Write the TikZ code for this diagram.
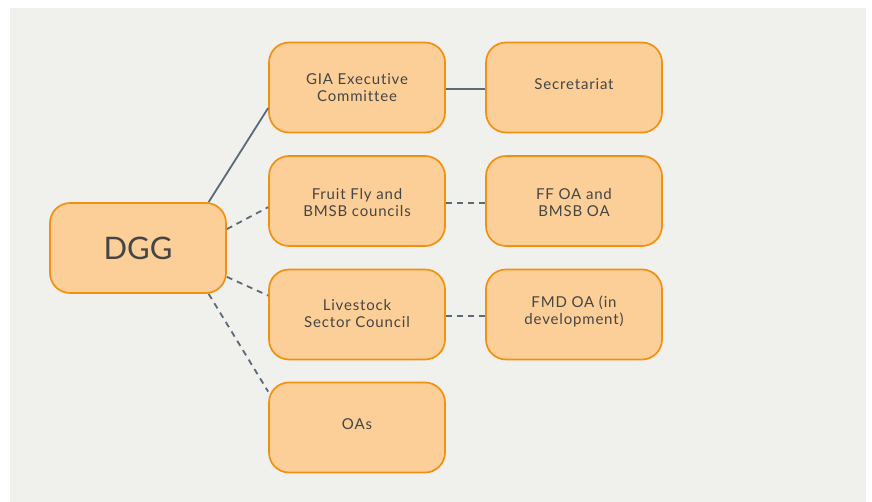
\documentclass[tikz,border=0pt]{standalone}
\usepackage{fontspec}
\setmainfont{Lato}
\newfontfamily\boxfont[LetterSpace=5.5,RawFeature={-liga;-dlig}]{Lato}
\definecolor{bgc}{HTML}{F0F0EC}
\definecolor{boxfill}{HTML}{FCCF98}
\definecolor{boxline}{HTML}{F29111}
\definecolor{linkc}{HTML}{5B6978}
\definecolor{txt}{HTML}{454545}
\newcommand{\twolines}[3]{\raisebox{#1}[\height][\depth]{\begin{tabular}{@{}c@{}}#2\\#3\end{tabular}}}
\newcommand{\oneline}[2]{\raisebox{#1}[\height][\depth]{#2}}
\tikzset{
  orgbox/.style={rectangle, rounded corners=20pt, draw=boxline, fill=boxfill,
    line width=1.7pt, minimum width=176pt, minimum height=90pt, inner sep=0pt,
    align=center, text=txt, font=\boxfont\fontsize{15}{17}\selectfont},
  bigbox/.style={orgbox, font=\rmfamily\fontsize{31}{36}\selectfont},
  solidlink/.style={draw=linkc, line width=1.8pt},
  dashlink/.style={draw=linkc, line width=1.8pt, dash pattern=on 6pt off 5pt}
}
\begin{document}
\begin{tikzpicture}[x=1pt,y=-1pt]
\useasboundingbox (0,0) rectangle (872,502);
\fill[white] (0,0) rectangle (872,502);
\fill[bgc] (10,8) rectangle (866,502);
\node[bigbox] (dgg) at (138,248) {DGG};
\node[orgbox] (gia) at (357,87.5) {\twolines{-2pt}{GIA Executive}{Committee}};
\node[orgbox] (sec) at (574,87.5) {\oneline{3pt}{Secretariat}};
\node[orgbox] (ff) at (357,201) {\twolines{-3.5pt}{Fruit Fly and}{BMSB councils}};
\node[orgbox] (ffoa) at (574,201) {\twolines{-3.5pt}{FF OA and}{BMSB OA}};
\node[orgbox] (live) at (357,314.5) {\twolines{-1pt}{Livestock}{Sector Council}};
\node[orgbox] (fmd) at (574,314.5) {\twolines{2pt}{FMD OA (in}{development)}};
\node[orgbox] (oas) at (357,427.5) {\oneline{3pt}{OAs}};
\draw[solidlink] (dgg.33.7) -- (gia.193);
\draw[dashlink] (dgg.12.5) -- (ff.184.5);
\draw[dashlink] (dgg.-18.4) -- (live.168);
\draw[dashlink] (dgg.-33.3) -- (oas.158);
\draw[solidlink] ([yshift=-1.5pt]gia.east) -- ([yshift=-1.5pt]sec.west);
\draw[dashlink] ([yshift=-2pt]ff.east) -- ([yshift=-2pt]ffoa.west);
\draw[dashlink] ([yshift=-1.5pt]live.east) -- ([yshift=-1.5pt]fmd.west);
\end{tikzpicture}
\end{document}
